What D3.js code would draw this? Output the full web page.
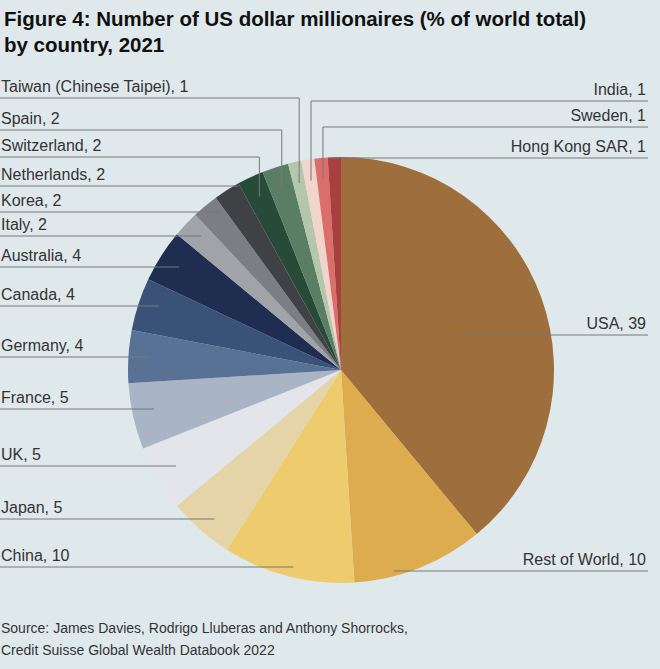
<!DOCTYPE html>
<html><head><meta charset="utf-8">
<script src="https://cdn.jsdelivr.net/npm/d3@7"></script>
<style>body{margin:0;background:#dfe9ec;font-family:"Helvetica Neue",Arial,"Liberation Sans",sans-serif}</style>
</head><body>
<script>
const countries = ['USA','Rest of World','China','Japan','UK','France','Germany','Canada','Australia','Italy','Korea','Netherlands','Switzerland','Spain','Taiwan (Chinese Taipei)','India','Sweden','Hong Kong SAR']
const shares = [39,10,10,5,5,5,4,4,4,2,2,2,2,2,1,1,1,1]
const colours = ['#9e6e3c','#dcac4e','#eecb6c','#e6d4a9','#e4e5ea','#a9b5c5','#5a7196','#3a5278','#1f2e50','#a0a3a8','#7b7e82','#3f4145','#284a38','#5b7d63','#b4c7ad','#f1d5cc','#dc6e69','#a8403f']
// label line height and side; 'v' = elbow leader that drops to the slice
const labelY = [335,571,567,519,466,409,357,306,267,236,212,186,157,130,98,101,127,158]
const side = ['r','r','l','l','l','l','l','l','l','l','l','l','l','l','l','r','r','r']
const elbow = [0,0,0,0,0,0,0,0,0,0,0,0,1,1,1,1,1,0]

const W = 660, H = 669, cx = 341, cy = 370, R = 213
const svg = d3.select('body').append('svg').attr('width', W).attr('height', H)

svg.append('text').attr('x', 4).attr('y', 26).attr('font-size', 20.5).attr('font-weight', 'bold').attr('fill', '#111')
  .text('Figure 4: Number of US dollar millionaires (% of world total)')
svg.append('text').attr('x', 4).attr('y', 52).attr('font-size', 20.5).attr('font-weight', 'bold').attr('fill', '#111')
  .text('by country, 2021')

const data = countries.map((c, i) => ({c, v: shares[i], col: colours[i], y: labelY[i], side: side[i], elbow: elbow[i]}))
const pie = d3.pie().value(d => d.v).sort(null)
const arc = d3.arc().innerRadius(0).outerRadius(R)
const arcs = pie(data)

const g = svg.append('g').attr('transform', `translate(${cx},${cy})`)
g.selectAll('path').data(arcs).join('path').attr('d', arc).attr('fill', d => d.data.col)

arcs.forEach(a => {
  const d = a.data
  const mid = (a.startAngle + a.endAngle) / 2
  const k = d.elbow ? 0.9 : (d.c === 'Hong Kong SAR' ? 1 : 0.9)
  let px = cx + k * R * Math.sin(mid)
  const py = cy - k * R * Math.cos(mid)
  let pts
  if (d.elbow) {
    pts = d.side === 'l' ? [[0, d.y], [px, d.y], [px, py]] : [[648, d.y], [px, d.y], [px, py]]
  } else if (d.side === 'l') {
    pts = [[0, d.y], [px, d.y]]
  } else {
    if (d.c === 'USA') px = cx + 0.55 * R
    if (d.c === 'Rest of World') px = cx + 0.25 * R
    if (d.c === 'Hong Kong SAR') px = cx - 12
    pts = [[648, d.y], [px, d.y]]
  }
  svg.append('path').attr('d', d3.line()(pts)).attr('fill', 'none').attr('stroke', '#777').attr('stroke-width', 1)
  svg.append('text')
    .attr('x', d.side === 'l' ? 1 : 646)
    .attr('y', d.y - 6)
    .attr('text-anchor', d.side === 'l' ? 'start' : 'end')
    .attr('font-size', 16).attr('fill', '#333')
    .text(`${d.c}, ${d.v}`)
})

svg.append('text').attr('x', 1).attr('y', 633).attr('font-size', 14).attr('fill', '#333')
  .text('Source: James Davies, Rodrigo Lluberas and Anthony Shorrocks,')
svg.append('text').attr('x', 1).attr('y', 655).attr('font-size', 14).attr('fill', '#333')
  .text('Credit Suisse Global Wealth Databook 2022')
</script>
</body></html>
